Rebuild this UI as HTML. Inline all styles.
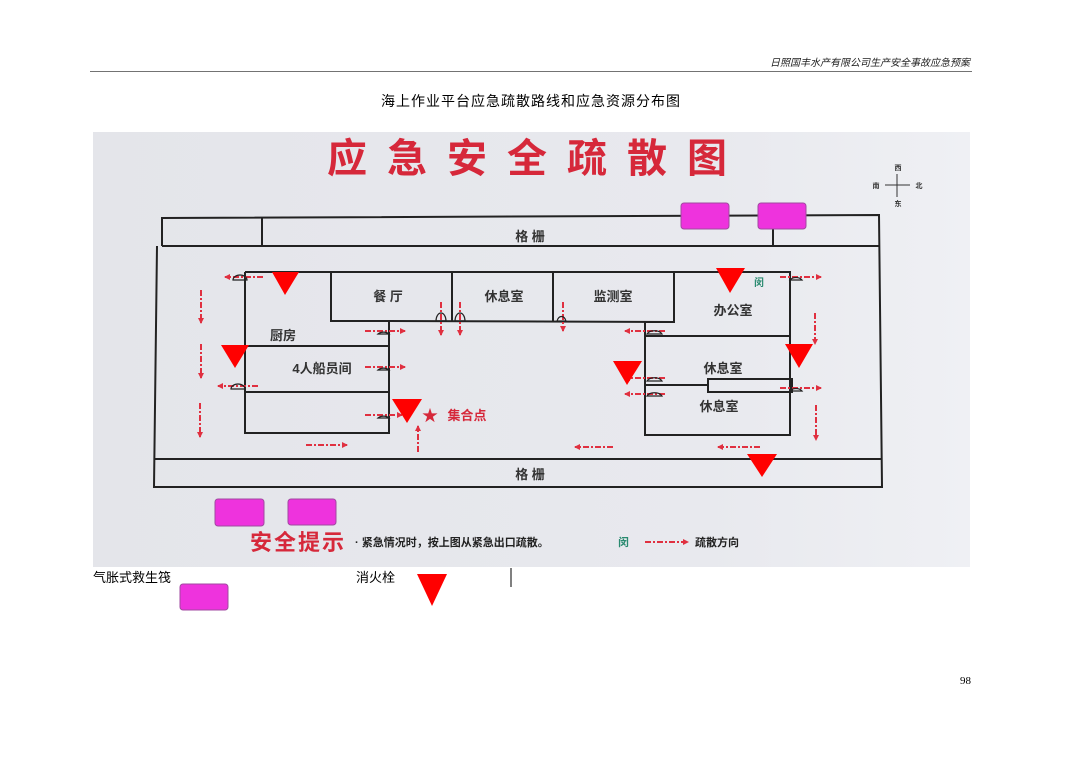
<!DOCTYPE html>
<html><head><meta charset="utf-8"><style>
body{margin:0;background:#fff;width:1080px;height:762px;overflow:hidden;font-family:"Liberation Sans","Noto Sans CJK SC",sans-serif}
svg{position:absolute;left:0;top:0}
</style></head><body>
<svg width="1080" height="762" viewBox="0 0 1080 762" xmlns="http://www.w3.org/2000/svg" font-family="Liberation Sans, Noto Sans CJK SC, sans-serif">
<defs>
<marker id="ah" markerWidth="6" markerHeight="6" refX="5" refY="3" orient="auto" markerUnits="userSpaceOnUse"><path d="M0,0 L6,3 L0,6z" fill="#e03040"/></marker>
<linearGradient id="bg" x1="0" y1="0" x2="1" y2="0"><stop offset="0" stop-color="#e4e5ea"/><stop offset="0.7" stop-color="#e8e9ee"/><stop offset="1" stop-color="#eff0f4"/></linearGradient>
</defs>
<text x="970" y="66" font-size="10" font-style="italic" text-anchor="end" fill="#222">日照国丰水产有限公司生产安全事故应急预案</text>
<line x1="90" y1="71.5" x2="972" y2="71.5" stroke="#444" stroke-width="0.8"/>
<text x="531" y="106" font-size="14" text-anchor="middle" fill="#000" letter-spacing="1">海上作业平台应急疏散路线和应急资源分布图</text>

<rect x="93" y="132" width="877" height="435" fill="url(#bg)"/>
<text x="327" y="172" font-size="40" font-weight="bold" fill="#d6283a" letter-spacing="20">应急安全疏散图</text>

<!-- compass -->
<g stroke="#333" stroke-width="1"><line x1="885" y1="185" x2="910" y2="185"/><line x1="897" y1="174" x2="897" y2="197"/></g>
<g font-size="7" fill="#333" text-anchor="middle" font-weight="bold"><text x="898" y="170">西</text><text x="898" y="206">东</text><text x="876" y="188">南</text><text x="919" y="188">北</text></g>

<g fill="none" stroke="#222" stroke-width="2">
<path d="M162,246 L162,218 L879,215 L882,487 L154,487 L157,246"/>
<line x1="162" y1="246" x2="879" y2="246"/>
<line x1="262" y1="218" x2="262" y2="246"/>
<line x1="773" y1="216" x2="773" y2="246"/>
<line x1="155" y1="459" x2="882" y2="459"/>
<path d="M245,272 L790,272 L790,435 L645,435 L645,322 L674,322 L674,272"/>
<path d="M245,272 L245,433 L389,433 L389,321 L331,321 L331,272"/>
<path d="M389,321 L674,322"/>
<line x1="452" y1="272" x2="452" y2="321"/>
<line x1="553" y1="272" x2="553" y2="322"/>
<line x1="245" y1="346" x2="389" y2="346"/>
<line x1="245" y1="392" x2="389" y2="392"/>
<line x1="645" y1="336" x2="790" y2="336"/>
<line x1="645" y1="385" x2="708" y2="385"/>
<rect x="708" y="379" width="84" height="13"/>
</g>

<g font-size="13" font-weight="bold" fill="#333" text-anchor="middle">
<text x="530" y="241">格 栅</text><text x="530" y="479">格 栅</text>
<text x="388" y="301">餐 厅</text><text x="504" y="301">休息室</text><text x="613" y="301">监测室</text>
<text x="733" y="315">办公室</text><text x="283" y="340">厨房</text><text x="322" y="373">4人船员间</text>
<text x="723" y="373">休息室</text><text x="719" y="411">休息室</text>
<text x="467" y="420" fill="#d6283a">集合点</text>
</g>
<text x="754" y="286" font-size="10" fill="#2a8a70" font-weight="bold">闵</text>
<text x="422" y="421" font-size="16" fill="#d6283a">★</text>

<g stroke="#e03040" stroke-width="2" stroke-dasharray="6,2,2,2" fill="none" marker-end="url(#ah)">
<line x1="263" y1="277" x2="225" y2="277"/>
<line x1="201" y1="290" x2="201" y2="323"/>
<line x1="201" y1="344" x2="201" y2="378"/>
<line x1="200" y1="403" x2="200" y2="437"/>
<line x1="258" y1="386" x2="218" y2="386"/>
<line x1="365" y1="331" x2="405" y2="331"/>
<line x1="365" y1="367" x2="405" y2="367"/>
<line x1="365" y1="415" x2="402" y2="415"/>
<line x1="306" y1="445" x2="347" y2="445"/>
<line x1="418" y1="452" x2="418" y2="426"/>
<line x1="441" y1="302" x2="441" y2="335"/>
<line x1="460" y1="302" x2="460" y2="335"/>
<line x1="563" y1="302" x2="563" y2="331"/>
<line x1="665" y1="331" x2="625" y2="331"/>
<line x1="665" y1="378" x2="625" y2="378"/>
<line x1="665" y1="394" x2="625" y2="394"/>
<line x1="780" y1="277" x2="821" y2="277"/>
<line x1="780" y1="388" x2="821" y2="388"/>
<line x1="815" y1="313" x2="815" y2="344"/>
<line x1="816" y1="405" x2="816" y2="440"/>
<line x1="760" y1="447" x2="718" y2="447"/>
<line x1="613" y1="447" x2="575" y2="447"/>
</g>
<g fill="none" stroke="#222" stroke-width="1.2">
<path d="M233,280 a7,5 0 0 1 14,0z"/><path d="M231,389 a7,5 0 0 1 14,0z"/>
<path d="M378,334 a7,5 0 0 1 11,0z"/><path d="M378,370 a7,5 0 0 1 11,0z"/><path d="M378,418 a7,5 0 0 1 11,0z"/>
<path d="M436,321 a5,8 0 0 1 10,0z"/><path d="M455,321 a5,8 0 0 1 10,0z"/><path d="M557,321 a5,8 0 0 1 9,0z"/>
<path d="M647,334 a8,5 0 0 1 15,0z"/><path d="M647,381 a8,5 0 0 1 15,0z"/><path d="M647,396 a8,5 0 0 1 15,0z"/>
<path d="M790,280 a7,5 0 0 1 12,0z"/><path d="M790,391 a7,5 0 0 1 12,0z"/>
</g>

<g fill="#ff0000">
<polygon points="272,272 299,272 285,295"/>
<polygon points="221,345 249,345 235,368"/>
<polygon points="392,399 422,399 407,423"/>
<polygon points="716,268 745,268 730,293"/>
<polygon points="785,344 813,344 799,368"/>
<polygon points="613,361 642,361 627,385"/>
<polygon points="747,454 777,454 762,477"/>
<polygon points="417,574 447,574 432,606"/>
</g>

<g fill="#ee33dd" stroke="#a04aa0" stroke-width="1">
<rect x="681" y="203" width="48" height="26" rx="3"/>
<rect x="758" y="203" width="48" height="26" rx="3"/>
<rect x="215" y="499" width="49" height="27" rx="3"/>
<rect x="288" y="499" width="48" height="26" rx="3"/>
<rect x="180" y="584" width="48" height="26" rx="3"/>
</g>

<text x="250" y="550" font-size="22" font-weight="bold" fill="#d6283a" letter-spacing="2">安全提示</text>
<text x="355" y="546" font-size="11" font-weight="bold" fill="#222">· 紧急情况时，按上图从紧急出口疏散。</text>
<text x="618" y="546" font-size="11" font-weight="bold" fill="#2a8a70">闵</text>
<line x1="645" y1="542" x2="688" y2="542" stroke="#e03040" stroke-width="2" stroke-dasharray="6,2,2,2" marker-end="url(#ah)"/>
<text x="695" y="546" font-size="11" font-weight="bold" fill="#222">疏散方向</text>

<text x="93" y="582" font-size="13" fill="#000">气胀式救生筏</text>
<text x="356" y="582" font-size="13" fill="#000">消火栓</text>
<line x1="511" y1="568" x2="511" y2="587" stroke="#000" stroke-width="1"/>
<text x="960" y="684" font-size="11" font-family="Liberation Serif, serif" fill="#000">98</text>
</svg>
</body></html>
